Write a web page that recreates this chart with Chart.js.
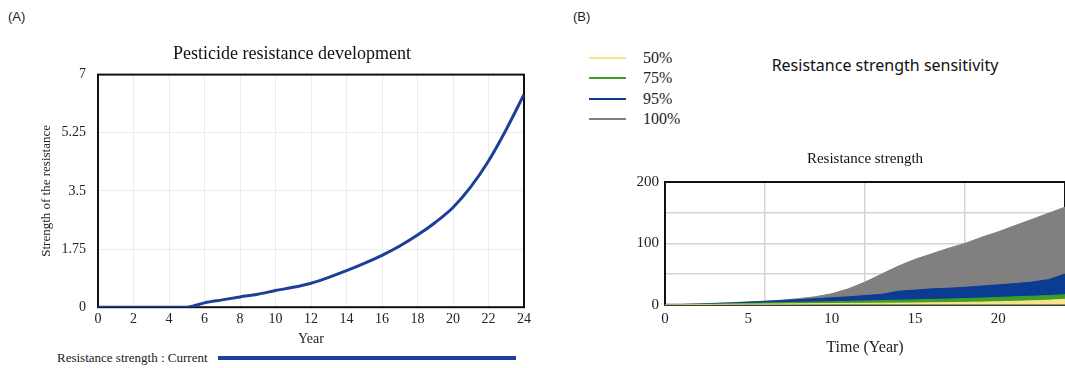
<!DOCTYPE html>
<html>
<head>
<meta charset="utf-8">
<script src="https://cdn.jsdelivr.net/npm/chart.js@4.4.1/dist/chart.umd.min.js"></script>
<style>
  body { margin: 0; width: 1065px; height: 368px; overflow: hidden; background: #fff; position: relative; font-family: 'Liberation Serif', serif; color: #222; }
  canvas { position: absolute; }
  #chartA { left: 0; top: 0; }
  #chartB { left: 560px; top: 140px; }
  .tag { position: absolute; top: 9px; font: 13px 'Liberation Sans', Arial, sans-serif; color: #222; }
  #titleB { position: absolute; left: 885px; top: 65px; transform: translate(-50%, -50%); font: 16px 'Noto Sans', sans-serif; white-space: nowrap; color: #111; }
  #legendA { position: absolute; left: 57px; top: 350px; display: flex; align-items: center; font-size: 13px; line-height: 15px; }
  #legendA .swatch { width: 298px; height: 4px; margin-left: 10px; }
  #legendB { position: absolute; left: 589px; top: 48px; font-size: 16px; font-family: 'Liberation Serif', serif; }
  #legendB .row { display: flex; align-items: center; height: 20.3px; }
  #legendB .swatch { width: 37px; height: 2px; margin-right: 17px; }
</style>
</head>
<body>
<div class="tag" style="left:8px">(A)</div>
<div class="tag" style="left:573px">(B)</div>
<canvas id="chartA" width="584" height="348"></canvas>
<div id="legendA"></div>
<div id="titleB">Resistance strength sensitivity</div>
<div id="legendB"></div>
<canvas id="chartB" width="505" height="228"></canvas>
<script>
// years 0..24
const years = [0, 1, 2, 3, 4, 5, 6, 7, 8, 9, 10, 11, 12, 13, 14, 15, 16, 17, 18, 19, 20, 21, 22, 23, 24];

// (A) current run
const resistanceCurrent = [0, 0, 0, 0, 0, 0, 0.13, 0.22, 0.31, 0.39, 0.5, 0.6, 0.72, 0.9, 1.1, 1.32, 1.56, 1.84, 2.17, 2.55, 3.0, 3.62, 4.4, 5.35, 6.4];

// (B) sensitivity bands (upper edge of each band)
const bandLabels = ['50%', '75%', '95%', '100%'];
const bandColors = ['#f7e38a', '#3f9e25', '#0b3c93', '#808080'];
const band50 = [0, 0.2, 0.4, 0.6, 0.8, 1, 1.2, 1.4, 1.6, 1.8, 2, 2.2, 2.4, 2.6, 2.8, 3, 3.3, 3.6, 4, 4.4, 5, 5.7, 6.5, 7.5, 9];
const band75 = [0, 0.3, 0.7, 1.2, 1.8, 2.4, 3, 3.5, 4, 4.5, 5, 5.6, 6.2, 6.8, 7.4, 8, 8.7, 9.4, 10.2, 11, 12, 13, 14, 15, 16.5];
const band95 = [0, 0.5, 1, 2, 3, 4.5, 5.5, 7, 8.5, 10, 11.5, 13, 15, 17, 22, 24, 26, 27, 28.5, 30.5, 32.5, 34.5, 37, 41, 50];
const band100 = [0, 0.5, 1.5, 2.5, 3.5, 4.5, 6, 7.5, 10, 13, 18, 26, 37, 50, 63, 74, 83, 92, 100, 110, 119, 129, 139, 149, 159];

Chart.defaults.font.family = "'Liberation Serif', serif";
Chart.defaults.color = '#222';

// black box round the plot area
const frame = {
  id: 'frame',
  beforeDatasetsDraw(chart) {
    const { ctx, chartArea: a } = chart;
    ctx.save();
    ctx.strokeStyle = '#111';
    ctx.lineWidth = 2;
    ctx.strokeRect(a.left, a.top, a.right - a.left, a.bottom - a.top);
    ctx.restore();
  }
};

const chartA = new Chart(document.getElementById('chartA'), {
  type: 'line',
  data: {
    labels: years,
    datasets: [{
      label: 'Resistance strength : Current',
      data: resistanceCurrent,
      borderColor: '#1c3f98',
      borderWidth: 3,
      pointRadius: 0,
      cubicInterpolationMode: 'monotone'
    }]
  },
  options: {
    responsive: false,
    animation: false,
    plugins: {
      legend: { display: false },
      tooltip: { enabled: false },
      title: {
        display: true,
        text: 'Pesticide resistance development',
        color: '#111',
        font: { size: 18, weight: 'normal' },
        padding: { top: 43, bottom: 10 }
      }
    },
    scales: {
      x: {
        type: 'linear', min: 0, max: 24,
        ticks: { stepSize: 2, padding: 5, font: { size: 14, lineHeight: 1 } },
        grid: { color: '#ececec', drawTicks: false },
        border: { display: false },
        title: { display: true, text: 'Year', font: { size: 14 }, padding: { top: 0, bottom: 0 } },
        afterFit: s => { s.paddingRight = 60; }
      },
      y: {
        min: 0, max: 7,
        ticks: { stepSize: 1.75, padding: 12, font: { size: 14 }, callback: v => String(Math.round(v * 100) / 100) },
        grid: { color: '#ececec', drawTicks: false },
        border: { display: false },
        title: { display: true, text: 'Strength of the resistance', font: { size: 13 }, padding: { top: 39, bottom: 0 } },
        afterFit: s => { s.width = 98; }
      }
    }
  },
  plugins: [frame]
});

const legA = document.getElementById('legendA');
chartA.data.datasets.forEach(ds => {
  legA.innerHTML += '<span>' + ds.label + '</span><span class="swatch" style="background:' + ds.borderColor + '"></span>';
});

const bands = [band50, band75, band95, band100];
const chartB = new Chart(document.getElementById('chartB'), {
  type: 'line',
  data: {
    labels: years,
    datasets: bands.map((b, i) => ({
      label: bandLabels[i],
      data: b,
      borderColor: bandColors[i],
      backgroundColor: bandColors[i],
      borderWidth: 1,
      pointRadius: 0,
      fill: 'origin'
    }))
  },
  options: {
    responsive: false,
    animation: false,
    layout: { padding: { bottom: 11 } },
    plugins: {
      legend: { display: false },
      tooltip: { enabled: false },
      title: {
        display: true,
        fullSize: false,
        text: 'Resistance strength',
        color: '#111',
        font: { size: 15, weight: 'normal' },
        padding: { top: 10, bottom: 14 }
      }
    },
    scales: {
      x: {
        type: 'linear', min: 0, max: 24,
        ticks: { stepSize: 5, includeBounds: false, padding: 5, font: { size: 15 } },
        grid: { display: false, drawTicks: false },
        border: { display: false },
        title: { display: true, text: 'Time (Year)', font: { size: 16 }, padding: { top: 5, bottom: 0 } }
      },
      xg: {
        type: 'linear', position: 'bottom', min: 0, max: 24,
        ticks: { display: false, stepSize: 6 },
        grid: { color: '#d4d4d4', lineWidth: 1.5, drawTicks: false },
        border: { display: false }
      },
      y: {
        min: 0, max: 200,
        ticks: { stepSize: 50, padding: 6, font: { size: 15 }, callback: v => (v % 100 === 0 ? v : '') },
        grid: { color: '#d4d4d4', lineWidth: 1.5, drawTicks: false },
        border: { display: false },
        afterFit: s => { s.width = 105; }
      }
    }
  },
  plugins: [frame]
});

const legB = document.getElementById('legendB');
chartB.data.datasets.forEach(ds => {
  legB.innerHTML += '<div class="row"><span class="swatch" style="background:' + ds.borderColor + '"></span><span>' + ds.label + '</span></div>';
});
</script>
</body>
</html>
